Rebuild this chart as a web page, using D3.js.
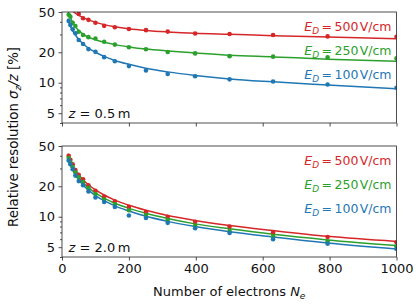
<!DOCTYPE html>
<html>
<head>
    <title>Relative resolution vs number of electrons</title>
</head>
<body style="margin:0">
<style type="text/css">
    body {
        background: #fff;
        margin: 0;
    }

    #renderer {
        width: 420px;
        height: 306px;
        background: #FFF;
        display: block;
        font-family: 'DejaVu Sans', sans-serif;
    }
</style>
<script type="text/javascript" src="https://cdnjs.cloudflare.com/ajax/libs/d3/7.8.5/d3.min.js"></script>
<svg id='renderer'></svg>

<script type="text/javascript">
    // measured points: number of electrons
    var electrons = [20, 25, 32, 40, 50, 63, 79, 100, 126, 158, 200, 251, 316, 398, 501, 631, 794, 1000];

    // z = 0.5 m
    var topRed = [null, null, null, null, 47.8, 43.3, 41.8, 39.2, 36.5, 35.3, 34, 33.1, 32, 30.7, 30.3, 29.6, 28.7, 28.4];
    var topGreen = [47, 45, 39.2, 36.3, 31.9, 29.6, 28.2, 27.4, 25.4, 23.8, 22.4, 21.4, 20.1, 19.5, 18.3, 18.1, 17.8, 17.4];
    var topBlue = [40.7, 37.2, 33.7, 30.8, 26.4, 24.1, 21.5, 20.2, 17.9, 16.3, 14.6, 13.2, 12.2, 11.6, 10.8, 10.3, 9.6, 8.9];

    // z = 2.0 m
    var botRed = [40, 36.5, 33, 29, 26, 23.5, 20.5, 18, 15.8, 14.2, 12.5, 11.1, 10.0, 8.9, 8.0, 7.0, 6.3, 5.6];
    var botGreen = [38, 34.5, 31, 27.5, 24.5, 22, 19.3, 16.8, 14.8, 13.3, 11.6, 10.4, 9.3, 8.2, 7.2, 6.4, 5.7, 5.1];
    var botBlue = [36, 33, 29.5, 25.5, 22.5, 20.5, 17.8, 15.5, 14, 12.5, 10.3, 9.7, 8.7, 7.7, 6.9, 6.0, 5.4, 4.8];

    // fitted curves
    var fitN = [17, 20, 25, 32, 40, 50, 63, 79, 100, 126, 158, 200, 251, 316, 398, 501, 631, 794, 1000];
    var topRedFit = [null, null, null, 51, 48.6, 46.3, 44, 41.8, 39.5, 37.5, 35.8, 34.2, 32.9, 31.8, 30.8, 30.1, 29.2, 28.3, 27.2];
    var topGreenFit = [53, 48.5, 44, 39.5, 35.8, 32.8, 30.3, 28.3, 26.6, 25.1, 23.8, 22.6, 21.5, 20.6, 19.7, 18.7, 18.0, 17.1, 16.3];
    var topBlueFit = [43, 40, 36.2, 32.6, 29.6, 26.8, 24.3, 22.0, 20.0, 18.2, 16.6, 15.2, 13.9, 12.8, 11.8, 10.9, 10.2, 9.5, 8.7];
    var botRedFit = [42, 39.5, 36, 32.2, 29, 26, 23.2, 20.7, 18.4, 16.4, 14.6, 13.0, 11.6, 10.3, 9.2, 8.2, 7.3, 6.4, 5.7];
    var botGreenFit = [40, 37.5, 34, 30.5, 27.3, 24.5, 21.8, 19.4, 17.2, 15.3, 13.6, 12.1, 10.8, 9.6, 8.5, 7.6, 6.7, 5.9, 5.2];
    var botBlueFit = [38, 35.5, 32.3, 29, 25.9, 23.2, 20.6, 18.3, 16.2, 14.4, 12.8, 11.4, 10.1, 9.0, 8.0, 7.1, 6.3, 5.5, 4.8];

    var fieldLabels = ['500', '250', '100'];
    var fieldColors = ['#d62728', '#2ca02c', '#1f77b4'];
    var xTicks = [0, 200, 400, 600, 800, 1000];
    var yTicks = [5, 10, 20, 50];
    var yMinorTicks = [4, 6, 7, 8, 9, 30, 40];

    var root = d3.select('#renderer');

    var plotLeft = 62;
    var plotRight = 396.5;
    var panelHeight = 111;
    var panelTops = [12, 146];

    var x = d3.scaleLinear().domain([0, 1000]).range([plotLeft, plotRight]);

    var panels = [
        {z: '0.5', points: [topRed, topGreen, topBlue], fits: [topRedFit, topGreenFit, topBlueFit]},
        {z: '2.0', points: [botRed, botGreen, botBlue], fits: [botRedFit, botGreenFit, botBlueFit]}
    ];

    panels.forEach(function (panel, p) {
        var top = panelTops[p];
        var y = d3.scaleLog().domain([4, 50]).range([top + panelHeight, top]);
        var g = root.append('g');

        root.append('clipPath').attr('id', 'clip' + p)
            .append('rect')
            .attr('x', plotLeft).attr('y', top)
            .attr('width', plotRight - plotLeft).attr('height', panelHeight);

        var data = g.append('g').attr('clip-path', 'url(#clip' + p + ')');

        // fitted lines
        panel.fits.forEach(function (fit, k) {
            var line = d3.line()
                .defined(function (d) { return d[1] !== null; })
                .x(function (d) { return x(d[0]); })
                .y(function (d) { return y(d[1]); })
                .curve(d3.curveMonotoneX);
            data.append('path')
                .datum(fitN.map(function (n, i) { return [n, fit[i]]; }))
                .attr('d', line)
                .attr('fill', 'none')
                .attr('stroke', fieldColors[k])
                .attr('stroke-width', 1.5);
        });

        // measured points
        panel.points.forEach(function (vals, k) {
            var pts = electrons.map(function (n, i) { return [n, vals[i]]; })
                .filter(function (d) { return d[1] !== null; });
            data.selectAll(null).data(pts).enter().append('circle')
                .attr('cx', function (d) { return x(d[0]); })
                .attr('cy', function (d) { return y(d[1]); })
                .attr('r', 2.3)
                .attr('fill', fieldColors[k]);
        });

        // axes
        var yAxis = d3.axisLeft(y).tickValues(yTicks).tickFormat(d3.format('d')).tickSize(3.5).tickPadding(3.5);
        var yMinor = d3.axisLeft(y).tickValues(yMinorTicks).tickFormat('').tickSize(2);
        var xAxis = d3.axisBottom(x).tickValues(xTicks).tickFormat(d3.format('d')).tickSize(3.5).tickPadding(3.5);
        if (p === 0) xAxis.tickFormat('');

        var ya = g.append('g').attr('transform', 'translate(' + plotLeft + ',0)').call(yAxis);
        var ym = g.append('g').attr('transform', 'translate(' + plotLeft + ',0)').call(yMinor);
        var xa = g.append('g').attr('transform', 'translate(0,' + (top + panelHeight) + ')').call(xAxis);
        [ya, ym, xa].forEach(function (a) {
            a.select('.domain').remove();
            a.selectAll('line').attr('stroke', '#222').attr('stroke-width', 0.8);
            a.selectAll('text').attr('font-size', 13).attr('fill', '#111')
                .attr('font-family', 'DejaVu Sans');
        });

        // frame
        g.append('rect')
            .attr('x', plotLeft).attr('y', top)
            .attr('width', plotRight - plotLeft).attr('height', panelHeight)
            .attr('fill', 'none').attr('stroke', '#222').attr('stroke-width', 0.8);

        // z label
        var zt = g.append('text')
            .attr('x', plotLeft + 6.5)
            .attr('y', top + panelHeight - 5)
            .attr('font-size', 13)
            .attr('fill', '#111');
        zt.append('tspan').attr('font-style', 'italic').text('z');
        zt.append('tspan').text(' = ' + panel.z + '\u2009m');

        // field labels
        fieldLabels.forEach(function (label, k) {
            var t = g.append('text')
                .attr('x', plotRight - 5)
                .attr('y', top + 18.5 + k * 24)
                .attr('text-anchor', 'end')
                .attr('font-size', 12.5)
                .attr('fill', fieldColors[k]);
            t.append('tspan').attr('font-style', 'italic').text('E');
            t.append('tspan').attr('font-style', 'italic').attr('font-size', 9).attr('dy', 3).text('D');
            t.append('tspan').attr('dy', -3).text('\u2009=\u2009' + label + '\u200aV/cm');
        });
    });

    // axis titles
    var xt = root.append('text')
        .attr('x', (plotLeft + plotRight) / 2)
        .attr('y', 296)
        .attr('text-anchor', 'middle')
        .attr('font-size', 13)
        .attr('fill', '#111');
    xt.append('tspan').text('Number of electrons ');
    xt.append('tspan').attr('font-style', 'italic').text('N');
    xt.append('tspan').attr('font-style', 'italic').attr('font-size', 9).attr('dy', 3).text('e');

    var yt = root.append('text')
        .attr('transform', 'translate(18,137) rotate(-90)')
        .attr('text-anchor', 'middle')
        .attr('font-size', 13.3)
        .attr('fill', '#111');
    yt.append('tspan').text('Relative resolution ');
    yt.append('tspan').attr('font-style', 'italic').text('\u03c3');
    yt.append('tspan').attr('font-style', 'italic').attr('font-size', 9).attr('dy', 3).text('z');
    yt.append('tspan').attr('font-style', 'italic').attr('dy', -3).text('/z');
    yt.append('tspan').text(' [%]');
</script>
</body>
</html>
